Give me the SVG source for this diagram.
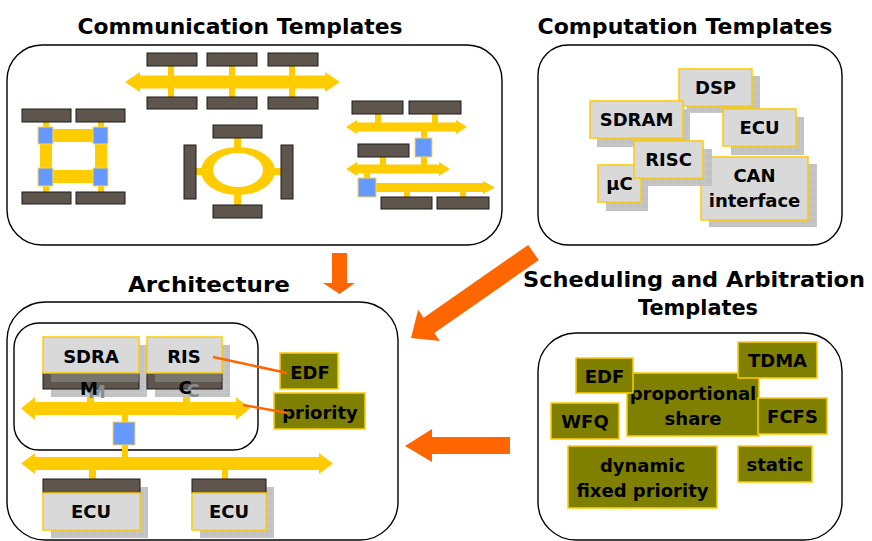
<svg xmlns="http://www.w3.org/2000/svg" width="872" height="541" viewBox="0 0 872 541">
  <defs>
    <pattern id="grid" width="8" height="8" patternUnits="userSpaceOnUse">
      <rect width="8" height="8" fill="#C2C2C2"/>
      <path d="M0 0.5H8M0.5 0V8" stroke="#CBCBCB" stroke-width="0.6" fill="none"/>
    </pattern>
    <style>
      .panel{fill:#fff;stroke:#000;stroke-width:1.4}
      .dev{fill:#5E564C;stroke:#1a1a1a;stroke-width:1}
      .bus{fill:#FFCC00}
      .sw{fill:#6699FF;stroke:#FFD84D;stroke-width:1}
      .box{fill:#D9D9D9;stroke:#FFCC00;stroke-width:1.5}
      .shadow{fill:url(#grid)}
      .sched{fill:#808000;stroke:#FFCC00;stroke-width:1.5}
      .lbl{font-family:"DejaVu Sans","Liberation Sans",sans-serif;font-weight:bold;font-size:18px;text-anchor:middle;fill:#000}
      .ghost{fill:#8a8a8a}
      .title{font-size:21px}
      .arrow{fill:#FF6600}
      .link{stroke:#FF6600;stroke-width:2.5;fill:none}
    </style>
  </defs>

  <rect width="872" height="541" fill="#fff"/>

  <!-- Communication templates -->
  <g id="communication">
    <text class="lbl title" x="240" y="34" textLength="325" lengthAdjust="spacingAndGlyphs">Communication Templates</text>
    <rect class="panel" x="7" y="45" width="495" height="200" rx="35"/>

    <!-- shared bus with six devices -->
    <g id="comm-bus">
      <rect class="bus" x="168" y="66" width="6" height="31"/>
      <rect class="bus" x="229" y="66" width="6" height="31"/>
      <rect class="bus" x="289" y="66" width="6" height="31"/>
      <polygon class="bus" points="125,82 140,72 140,75.5 325,75.5 325,72 340,82 325,92 325,88.5 140,88.5 140,92"/>
      <rect class="dev" x="147" y="53" width="50" height="13"/>
      <rect class="dev" x="207" y="53" width="50" height="13"/>
      <rect class="dev" x="268" y="53" width="50" height="13"/>
      <rect class="dev" x="147" y="97" width="50" height="12"/>
      <rect class="dev" x="207" y="97" width="50" height="12"/>
      <rect class="dev" x="268" y="97" width="50" height="12"/>
    </g>

    <!-- switched mesh -->
    <g id="comm-mesh">
      <rect class="bus" x="53" y="129" width="40" height="13"/>
      <rect class="bus" x="53" y="170" width="40" height="13"/>
      <rect class="bus" x="40" y="144" width="12" height="24"/>
      <rect class="bus" x="95" y="144" width="12" height="24"/>
      <rect class="bus" x="43" y="122" width="6" height="5"/>
      <rect class="bus" x="43" y="186" width="6" height="6"/>
      <rect class="bus" x="98" y="122" width="6" height="5"/>
      <rect class="bus" x="98" y="186" width="6" height="6"/>
      <rect class="sw" x="38" y="127" width="15" height="17"/>
      <rect class="sw" x="93" y="127" width="15" height="17"/>
      <rect class="sw" x="38" y="168" width="15" height="18"/>
      <rect class="sw" x="93" y="168" width="15" height="18"/>
      <rect class="dev" x="22" y="109" width="49" height="13"/>
      <rect class="dev" x="76" y="109" width="49" height="13"/>
      <rect class="dev" x="22" y="192" width="49" height="12"/>
      <rect class="dev" x="76" y="192" width="49" height="12"/>
    </g>

    <!-- ring -->
    <g id="comm-ring">
      <rect class="bus" x="234" y="137" width="7" height="11"/>
      <rect class="bus" x="234" y="194" width="7" height="11"/>
      <rect class="bus" x="195" y="168" width="7" height="7"/>
      <rect class="bus" x="274" y="168" width="7" height="7"/>
      <path class="bus" fill-rule="evenodd" d="M201 171a37 24 0 1 0 74 0a37 24 0 1 0 -74 0ZM213 170a25 17 0 1 0 50 0a25 17 0 1 0 -50 0Z"/>
      <rect class="dev" x="213" y="125" width="49" height="13"/>
      <rect class="dev" x="213" y="205" width="49" height="13"/>
      <rect class="dev" x="184" y="145" width="12" height="54"/>
      <rect class="dev" x="281" y="145" width="12" height="54"/>
    </g>

    <!-- hierarchical buses with bridges -->
    <g id="comm-hier">
      <rect class="bus" x="375" y="114" width="6" height="9"/>
      <rect class="bus" x="432" y="114" width="6" height="9"/>
      <rect class="bus" x="421" y="131" width="6" height="7"/>
      <rect class="bus" x="380" y="157" width="6" height="8"/>
      <rect class="bus" x="421" y="157" width="6" height="8"/>
      <rect class="bus" x="364" y="173" width="6" height="5"/>
      <rect class="bus" x="404" y="191" width="6" height="6"/>
      <rect class="bus" x="460" y="191" width="6" height="6"/>
      <polygon class="bus" points="346,127 357,120 357,122.5 456,122.5 456,120 467,127 456,134 456,131.5 357,131.5 357,134"/>
      <polygon class="bus" points="346,169 357,162 357,164.5 439,164.5 439,162 450,169 439,176 439,173.5 357,173.5 357,176"/>
      <polygon class="bus" points="376,183 483,183 483,181 495,187.5 483,194 483,192 376,192"/>
      <rect class="sw" x="415" y="138" width="17" height="19"/>
      <rect class="sw" x="358" y="178" width="18" height="19"/>
      <rect class="dev" x="352" y="101" width="51" height="13"/>
      <rect class="dev" x="409" y="101" width="52" height="13"/>
      <rect class="dev" x="358" y="144" width="51" height="13"/>
      <rect class="dev" x="381" y="197" width="51" height="12"/>
      <rect class="dev" x="437" y="197" width="52" height="12"/>
    </g>
  </g>

  <!-- Computation templates -->
  <g id="computation">
    <text class="lbl title" x="685" y="34" textLength="295" lengthAdjust="spacingAndGlyphs">Computation Templates</text>
    <rect class="panel" x="538" y="45" width="304" height="200" rx="30"/>
    <g id="comp-dsp">
      <rect class="shadow" x="687" y="76" width="73" height="37"/>
      <rect class="box" x="679" y="69" width="73" height="37"/>
      <text class="lbl" x="715.5" y="94">DSP</text>
    </g>
    <g id="comp-sdram">
      <rect class="shadow" x="597" y="109" width="93" height="38"/>
      <rect class="box" x="590" y="101" width="93" height="37"/>
      <text class="lbl" x="636.5" y="126">SDRAM</text>
    </g>
    <g id="comp-ecu">
      <rect class="shadow" x="731" y="117" width="73" height="38"/>
      <rect class="box" x="723" y="109" width="73" height="37"/>
      <text class="lbl" x="759.5" y="134">ECU</text>
    </g>
    <g id="comp-can">
      <rect class="shadow" x="709" y="164" width="108" height="63"/>
      <rect class="box" x="701" y="157" width="107" height="63"/>
      <text class="lbl" x="754.5" y="182">CAN</text>
      <text class="lbl" x="754.5" y="207">interface</text>
    </g>
    <g id="comp-uc">
      <rect class="shadow" x="606" y="173" width="42" height="38"/>
      <rect class="box" x="598" y="165" width="43" height="37"/>
      <text class="lbl" x="619.5" y="190">µC</text>
    </g>
    <g id="comp-risc">
      <rect class="shadow" x="642" y="149" width="70" height="37"/>
      <rect class="box" x="634" y="141" width="69" height="37"/>
      <text class="lbl" x="668.5" y="166">RISC</text>
    </g>
  </g>

  <!-- Architecture -->
  <g id="architecture">
    <text class="lbl title" x="209" y="292" textLength="162" lengthAdjust="spacingAndGlyphs">Architecture</text>
    <rect class="panel" x="7" y="302" width="391" height="238" rx="38"/>
    <rect class="panel" x="14" y="323" width="244" height="127" rx="25" fill="none"/>

    <g id="arch-buses">
      <rect class="bus" x="87" y="388" width="7" height="15"/>
      <rect class="bus" x="183" y="388" width="7" height="15"/>
      <rect class="bus" x="122" y="414" width="6" height="9"/>
      <rect class="bus" x="122" y="444" width="6" height="14"/>
      <rect class="bus" x="89" y="469" width="7" height="11"/>
      <rect class="bus" x="222" y="469" width="6" height="11"/>
      <polygon class="bus" points="21,408.5 35,397 35,402 236,402 236,397 250,408.5 236,420 236,415 35,415 35,420"/>
      <polygon class="bus" points="21,463.5 35,453 35,457 319,457 319,453 333,463.5 319,474 319,470 35,470 35,474"/>
      <rect class="sw" x="113" y="422" width="22" height="23"/>
    </g>

    <g id="arch-sdram">
      <rect class="shadow" x="51" y="345" width="96" height="52"/>
      <rect class="dev" x="43" y="373" width="96" height="16"/>
      <rect x="51" y="374" width="88" height="8" fill="#9a9a9a" opacity="0.45"/>
      <rect class="box" x="43" y="337" width="96" height="36"/>
      <text class="lbl" x="91" y="363">SDRA</text>
      <text class="lbl ghost" x="97" y="398">M</text>
      <text class="lbl" x="89" y="395">M</text>
    </g>
    <g id="arch-risc">
      <rect class="shadow" x="155" y="345" width="75" height="52"/>
      <rect class="dev" x="147" y="373" width="75" height="16"/>
      <rect x="155" y="374" width="67" height="8" fill="#9a9a9a" opacity="0.45"/>
      <rect class="box" x="147" y="337" width="75" height="36"/>
      <text class="lbl" x="184" y="363">RIS</text>
      <text class="lbl ghost" x="193" y="397">C</text>
      <text class="lbl" x="185" y="394">C</text>
    </g>

    <g id="arch-ecu1">
      <rect class="shadow" x="51" y="487" width="97" height="51"/>
      <rect class="dev" x="43" y="479" width="97" height="14"/>
      <rect class="box" x="43" y="493" width="97" height="37"/>
      <text class="lbl" x="91" y="518">ECU</text>
    </g>
    <g id="arch-ecu2">
      <rect class="shadow" x="200" y="487" width="74" height="51"/>
      <rect class="dev" x="192" y="479" width="74" height="14"/>
      <rect class="box" x="192" y="493" width="74" height="37"/>
      <text class="lbl" x="229" y="518">ECU</text>
    </g>

    <g id="arch-edf">
      <rect class="sched" x="280" y="353" width="58" height="36"/>
      <text class="lbl" x="310" y="379">EDF</text>
    </g>
    <g id="arch-priority">
      <rect class="sched" x="274" y="393" width="91" height="36"/>
      <text class="lbl" x="320" y="419">priority</text>
    </g>
  </g>

  <!-- Scheduling and arbitration templates -->
  <g id="scheduling">
    <text class="lbl title" x="694" y="287" textLength="342" lengthAdjust="spacingAndGlyphs">Scheduling and Arbitration</text>
    <text class="lbl title" x="698" y="315" textLength="120" lengthAdjust="spacingAndGlyphs">Templates</text>
    <rect class="panel" x="538" y="333" width="304" height="207" rx="38"/>
    <g id="sched-prop">
      <rect class="sched" x="627" y="373" width="132" height="63"/>
      <text class="lbl" x="693" y="400">proportional</text>
      <text class="lbl" x="693" y="425">share</text>
    </g>
    <g id="sched-edf">
      <rect class="sched" x="576" y="358" width="57" height="35"/>
      <text class="lbl" x="604.5" y="383">EDF</text>
    </g>
    <g id="sched-tdma">
      <rect class="sched" x="738" y="342" width="79" height="36"/>
      <text class="lbl" x="777.5" y="367">TDMA</text>
    </g>
    <g id="sched-fcfs">
      <rect class="sched" x="758" y="398" width="69" height="36"/>
      <text class="lbl" x="792.5" y="423">FCFS</text>
    </g>
    <g id="sched-wfq">
      <rect class="sched" x="551" y="403" width="68" height="36"/>
      <text class="lbl" x="585" y="428">WFQ</text>
    </g>
    <g id="sched-dyn">
      <rect class="sched" x="568" y="446" width="149" height="62"/>
      <text class="lbl" x="642.5" y="472">dynamic</text>
      <text class="lbl" x="642.5" y="497">fixed priority</text>
    </g>
    <g id="sched-static">
      <rect class="sched" x="738" y="446" width="74" height="36"/>
      <text class="lbl" x="775" y="471">static</text>
    </g>
  </g>

  <!-- connectors -->
  <g id="connectors">
    <line class="link" x1="213" y1="357" x2="287" y2="373"/>
    <line class="link" x1="243" y1="405" x2="288" y2="413"/>
    <polygon class="arrow" points="332,253 347,253 347,283 355,283 339.5,294 323,283 332,283"/>
    <polygon class="arrow" points="411,338 418.1,309.8 423.7,317.8 528.2,244.9 538.8,260.1 434.3,333 439.9,341"/>
    <polygon class="arrow" points="510,437 432,437 432,429 405,446 432,462 432,454 510,454"/>
  </g>
</svg>
